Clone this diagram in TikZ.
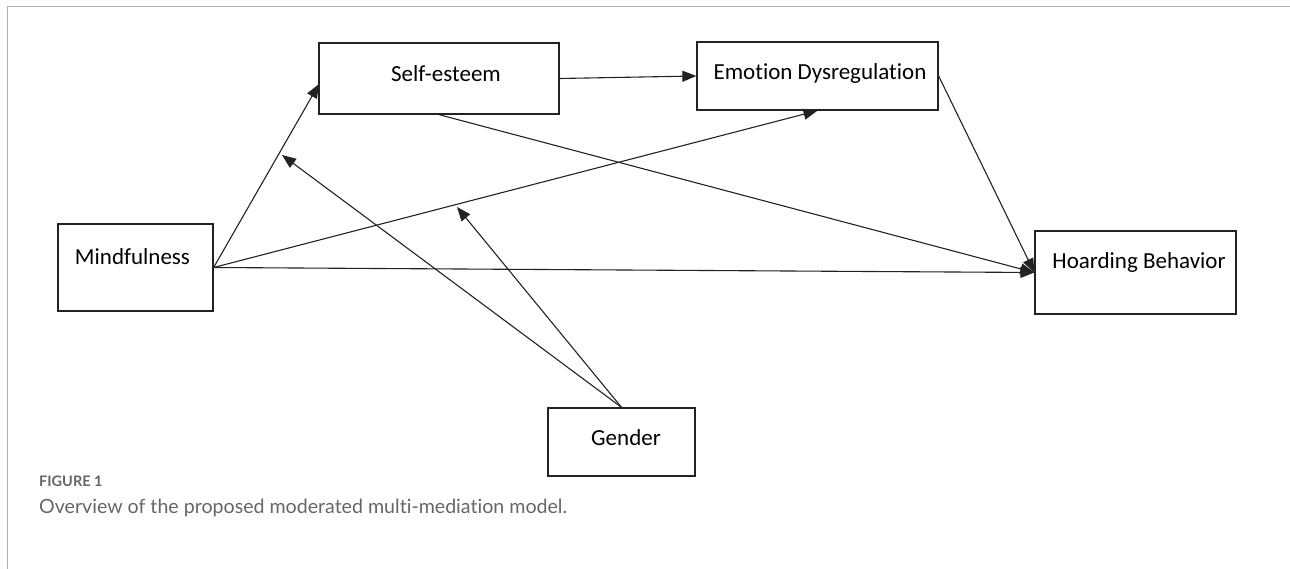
\documentclass[tikz,border=0pt]{standalone}
\usepackage{fontspec}
\setmainfont[RawFeature=-liga]{Carlito}
\newfontfamily\capfont[RawFeature=-liga]{Lato}
\usetikzlibrary{arrows.meta}
\definecolor{frame}{HTML}{B0B0B0}
\definecolor{capgray}{HTML}{666666}
\definecolor{boxline}{HTML}{222222}
\tikzset{
  box/.style={draw=boxline, line width=1.3pt, minimum width=#1, inner sep=0pt},
  lbl/.style={font=\fontsize{23}{27}\selectfont, text=black, inner sep=0pt},
  arr/.style={draw=boxline, line width=1.1pt, -{Triangle[length=14pt,width=11pt]}},
  captext/.style={text=capgray, anchor=west, inner sep=0pt}
}
\begin{document}
\begin{tikzpicture}[x=1pt,y=-1pt]
\useasboundingbox (0,0) rectangle (1290,569);
% frame
\draw[frame, line width=1pt] (7,569) -- (7,7) -- (1290,7);
% boxes
\node[box=240pt, minimum height=71pt] (self) at (439,78.5) {};
\node[box=241pt, minimum height=68pt] (emo) at (817.5,76) {};
\node[box=155pt, minimum height=87pt] (mind) at (135.5,267.5) {};
\node[box=201pt, minimum height=83pt] (hoard) at (1135.5,272.5) {};
\node[box=147pt, minimum height=68pt] (gender) at (621.5,442) {};
% labels
\node[lbl] (selft) at (446,74) {Self-esteem};
\node[lbl] (emot) at (820,73) {Emotion Dysregulation};
\node[lbl] (mindt) at (132.5,257) {Mindfulness};
\node[lbl] (hoardt) at (1139,262) {Hoarding Behavior};
\node[lbl] (gendert) at (626,438) {Gender};
% connector end points
\coordinate (selfin) at (319,84);
\coordinate (m1) at (282,155);
\coordinate (m2) at (457,207);
% arrows
\draw[arr] (mind.east) -- (selfin);
\draw[arr] (mind.east) -- (emo.south);
\draw[arr] (mind.east) -- (hoard.west);
\draw[arr] (self.east) -- (emo.west);
\draw[arr] (self.south) -- (hoard.west);
\draw[arr] (emo.east) -- (hoard.west);
\draw[arr] (gender.north) -- (m1);
\draw[arr] (gender.north) -- (m2);
% caption
\node[captext, font=\capfont\bfseries\fontsize{14.5}{17}\selectfont] (figno) at (39,481) {FIGURE 1};
\node[captext, font=\capfont\fontsize{19.6}{23}\selectfont] (caption) at (39,508) {Overview of the proposed moderated multi-mediation model.};
\end{tikzpicture}
\end{document}
